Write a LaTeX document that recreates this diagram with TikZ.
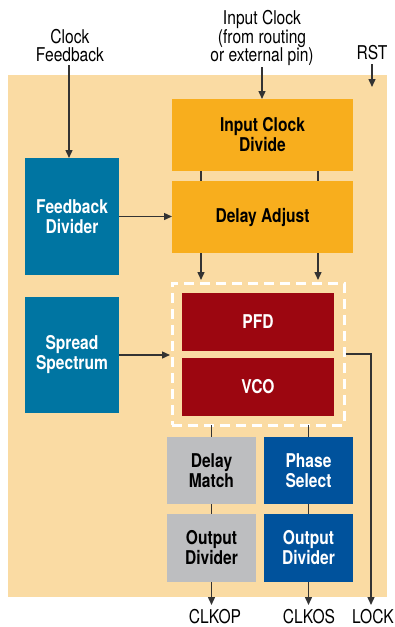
\documentclass[tikz,border=0pt]{standalone}
\usepackage{fontspec}
\setmainfont{TeX Gyre Heros}[FakeStretch=0.82]
\usetikzlibrary{arrows.meta}
\definecolor{chipbg}{HTML}{FADBA3}
\definecolor{clkorange}{HTML}{F8AE1D}
\definecolor{pllred}{HTML}{9C0610}
\definecolor{ctrlteal}{HTML}{0075A2}
\definecolor{outblue}{HTML}{00529C}
\definecolor{outgray}{HTML}{BDBEC0}
\definecolor{wirec}{HTML}{333333}
\begin{document}
\begin{tikzpicture}[x=1pt,y=-1pt,
  blk/.style={rectangle, inner sep=0pt, outer sep=0pt, align=center,
    font=\fontsize{19}{20}\selectfont\bfseries},
  orangeblk/.style={blk, fill=clkorange, text=black},
  redblk/.style={blk, fill=pllred, text=white},
  tealblk/.style={blk, fill=ctrlteal, text=white},
  blueblk/.style={blk, fill=outblue, text=white},
  grayblk/.style={blk, fill=outgray, text=black},
  lbl/.style={inner sep=0pt, outer sep=0pt, align=center,
    font=\fontsize{19}{18.5}\selectfont},
  wire/.style={draw=wirec, line width=1.4pt},
  arr/.style={wire, -{Triangle[length=8pt,width=7pt]}},
]
\useasboundingbox (0,0) rectangle (395,627);
% PLL block area
\fill[chipbg] (8,75) rectangle (387,597);

% blocks
\node[orangeblk, minimum width=181pt, minimum height=72pt] (icd) at (262.5,135) {Input Clock\\Divide};
\node[orangeblk, minimum width=181pt, minimum height=72pt] (da) at (262.5,217) {Delay Adjust};
\node[tealblk, minimum width=94pt, minimum height=117pt] (fbd) at (72,216.5) {Feedback\\Divider};
\node[tealblk, minimum width=94pt, minimum height=116pt] (ss) at (72,355) {Spread\\Spectrum};
\node[draw=white, line width=3pt, dash pattern=on 10pt off 6pt,
  inner sep=0pt, outer sep=0pt, minimum width=172pt, minimum height=142pt] (pll) at (258,354) {};
\node[redblk, minimum width=152pt, minimum height=58pt] (pfd) at (258,322) {PFD};
\node[redblk, minimum width=152pt, minimum height=58pt] (vco) at (258,387) {VCO};
\node[grayblk, minimum width=89pt, minimum height=67pt] (dm) at (211.5,470.5) {Delay\\Match};
\node[grayblk, minimum width=89pt, minimum height=68pt] (odp) at (211.5,548) {Output\\Divider};
\node[blueblk, minimum width=89pt, minimum height=67pt] (ps) at (308.5,470.5) {Phase\\Select};
\node[blueblk, minimum width=89pt, minimum height=68pt] (ods) at (308.5,548) {Output\\Divider};

% external labels
\node[lbl, anchor=south] (fbin) at (70,62) {Clock\\Feedback};
\node[lbl, anchor=south] (clkin) at (262,66) {Input Clock\\(from routing\\or external pin)};
\node[lbl, anchor=south] (rst) at (372,60) {RST};
\node[lbl, anchor=north] (clkop) at (215,609) {CLKOP};
\node[lbl, anchor=north] (clkos) at (309,609) {CLKOS};
\node[lbl, anchor=north] (lock) at (373,609) {LOCK};
\coordinate (rstend) at (372,87);

% connections
\draw[arr, shorten <=3pt] (fbd.north |- fbin.south) ++(-3,0) -- ([xshift=-3pt]fbd.north);
\draw[arr, shorten <=1pt] (clkin.south) -- (clkin.south |- icd.north);
\draw[arr, shorten <=4pt] (rst.south) -- (rstend);
\draw[wire] ([xshift=29pt]icd.south west) -- ([xshift=29pt]da.north west);
\draw[wire] ([xshift=-35pt]icd.south east) -- ([xshift=-35pt]da.north east);
\draw[arr, shorten >=3pt] ([xshift=29pt]da.south west) -- ([xshift=29pt]da.south west |- pll.north);
\draw[arr, shorten >=3pt] ([xshift=-35pt]da.south east) -- ([xshift=-35pt]da.south east |- pll.north);
\draw[arr] (fbd.east) -- (fbd.east -| da.west);
\draw[arr, shorten >=2pt] (ss.east) -- (ss.east -| pll.west);
\draw[wire] (pll.south -| dm.north) -- (dm.north);
\draw[wire] (pll.south -| ps.north) -- (ps.north);
\draw[wire] (dm.south) -- (odp.north);
\draw[wire] (ps.south) -- (ods.north);
\draw[arr, shorten >=4pt] (odp.south) -- (odp.south |- clkop.north);
\draw[arr, shorten >=4pt] (ods.south) -- (ods.south |- clkos.north);
\draw[arr, shorten >=4pt, shorten <=1.5pt] (pll.east) -| ([xshift=-2pt]lock.north);
\end{tikzpicture}
\end{document}
